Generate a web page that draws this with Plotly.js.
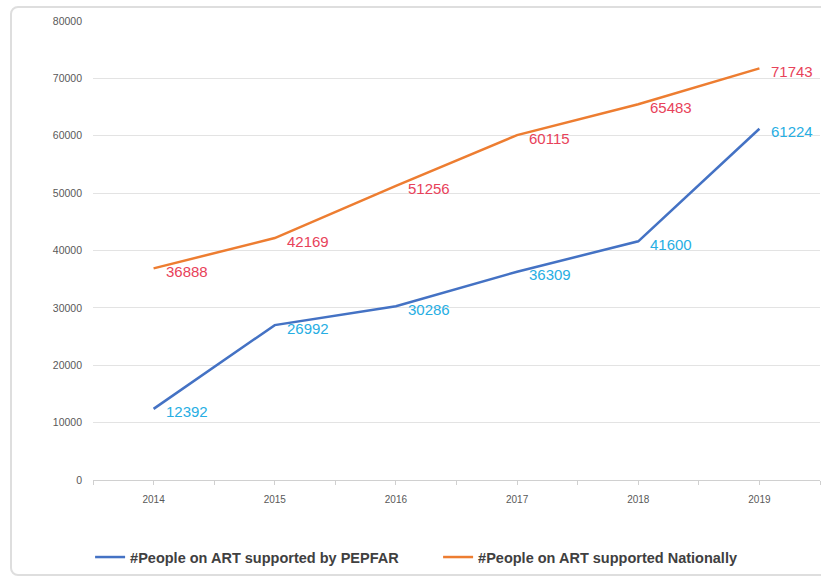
<!DOCTYPE html>
<html>
<head>
<meta charset="utf-8">
<script src="https://cdn.plot.ly/plotly-3.0.1.min.js"></script>
<style>
  html, body { margin: 0; padding: 0; background: #ffffff; }
  #frame {
    position: absolute; left: 10px; top: 6px; width: 830px; height: 570px;
    border: 2px solid #dedede; border-radius: 8px; box-sizing: border-box;
  }
  #chart { position: absolute; left: 0; top: 0; width: 821px; height: 578px; }
</style>
</head>
<body>
<div id="frame"></div>
<div id="chart"></div>
<script>
// Years on the category axis
const years = [2014, 2015, 2016, 2017, 2018, 2019];
// People on ART supported by PEPFAR
const pepfar = [12392, 26992, 30286, 36309, 41600, 61224];
// People on ART supported nationally
const national = [36888, 42169, 51256, 60115, 65483, 71743];
// Axis tick values
const yTicks = [0, 10000, 20000, 30000, 40000, 50000, 60000, 70000, 80000];
const xTicks = [2013.5, 2014, 2014.5, 2015, 2015.5, 2016, 2016.5, 2017, 2017.5, 2018, 2018.5, 2019, 2019.5];

const seriesNames = ['#People on ART supported by PEPFAR', '#People on ART supported Nationally'];
const lineColors = ['#4472c4', '#ed7d31'];
const labelColors = ['#27aee3', '#e8425a'];

const traces = [pepfar, national].map((vals, i) => ({
  x: years, y: vals, type: 'scatter', mode: 'lines',
  name: seriesNames[i],
  line: { color: lineColors[i], width: 2.5 },
  hoverinfo: 'skip'
}));

// Value labels placed right of each point, slightly below
const annotations = [];
[pepfar, national].forEach((vals, i) => {
  vals.forEach((v, k) => {
    annotations.push({
      x: years[k], y: v, xref: 'x', yref: 'y',
      text: String(v), showarrow: false,
      xanchor: 'left', yanchor: 'middle', xshift: 10, yshift: -3,
      font: { family: 'Liberation Sans, Arial, sans-serif', size: 15, color: labelColors[i] }
    });
  });
});

const layout = {
  width: 821, height: 578,
  paper_bgcolor: 'rgba(0,0,0,0)', plot_bgcolor: 'rgba(0,0,0,0)',
  margin: { l: 93, r: 1, t: 21, b: 98 },
  showlegend: true,
  legend: {
    orientation: 'h', x: -0.004, xanchor: 'left', y: -0.168, yanchor: 'middle',
    font: { family: 'Liberation Sans, Arial, sans-serif', size: 14.5, color: '#404040', weight: 'bold' },
    itemwidth: 30, entrywidth: 303, entrywidthmode: 'pixels'
  },
  xaxis: {
    range: [2013.5, 2019.5],
    tickmode: 'array', tickvals: xTicks,
    ticktext: xTicks.map(t => Number.isInteger(t) ? String(t) : ''),
    ticks: 'outside', ticklen: 4, tickcolor: '#d0d0d0', tickwidth: 1,
    ticklabelstandoff: 6,
    showgrid: false, zeroline: false,
    showline: false,
    tickfont: { family: 'Liberation Sans, Arial, sans-serif', size: 10, color: '#595959' },
    fixedrange: true
  },
  yaxis: {
    range: [0, 80000],
    tickmode: 'array', tickvals: yTicks, ticktext: yTicks.map(String),
    showgrid: true, gridcolor: '#e3e3e3', gridwidth: 1,
    zeroline: true, zerolinecolor: '#d0d0d0', zerolinewidth: 1,
    ticks: '', ticklabelstandoff: 10,
    tickfont: { family: 'Liberation Sans, Arial, sans-serif', size: 10.5, color: '#595959' },
    fixedrange: true
  },
  annotations: annotations
};

Plotly.newPlot('chart', traces, layout, { displayModeBar: false, staticPlot: true });
</script>
</body>
</html>
